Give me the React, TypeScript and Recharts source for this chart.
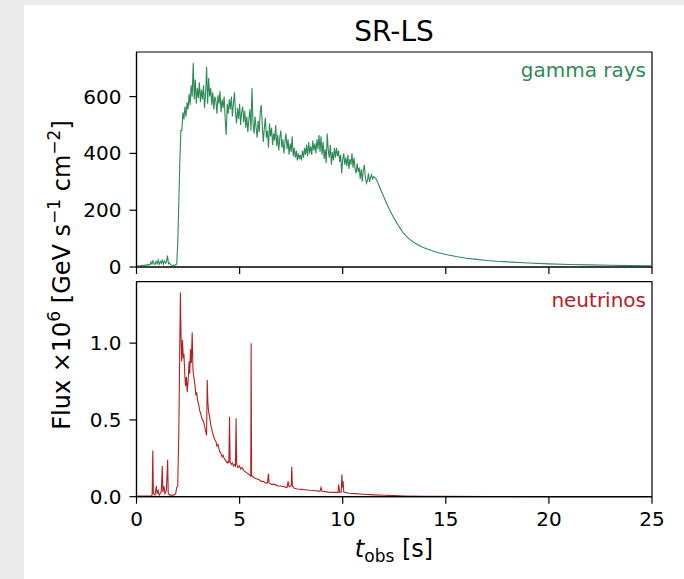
import React from 'react';
import { LineChart, Line, XAxis, YAxis, ReferenceArea } from 'recharts';

// gamma rays: flux sampled every 0.05 s from t = 0 up to 11.50 s
const gammaStep = 0.05;
const gammaFlux = [
  2, 3, 4, 3, 5, 4, 6, 5, 7, 6,
  8, 6, 9, 7, 18, 10, 22, 12, 9, 20,
  11, 24, 9, 19, 13, 26, 10, 21, 14, 17,
  40, 12, 15, 8, 6, 5, 7, 6, 8, 10,
  80, 220, 370, 480,
  480, 545, 520, 565, 530, 580, 555, 610, 570, 640,
  600, 718, 590, 660, 575, 630, 595, 650, 580, 625,
  590, 640, 560, 610, 705, 575, 665, 600, 630, 570,
  615, 555, 600, 585, 540, 605, 575, 620, 545, 590,
  560, 600, 520, 465, 575, 540, 590, 555, 600, 530,
  575, 615, 545, 505, 560, 520, 575, 500, 545, 565,
  510, 550, 490, 530, 475, 520, 555, 480, 630, 505,
  470, 530, 490, 455, 515, 475, 545, 570, 500, 440,
  490, 525, 455, 480, 420, 505, 460, 490, 430, 470,
  445, 500, 425, 465, 410, 455, 480, 420, 450, 400,
  440, 470, 415, 450, 395, 435, 405, 460, 390, 420,
  385, 410, 375, 400, 380, 395, 375, 410, 385, 420,
  395, 430, 390, 440, 400, 425, 395, 445, 410, 435,
  400, 450, 415, 465, 405, 460, 395, 440, 380, 415,
  365, 470, 410, 385, 430, 360, 405, 375, 420, 385,
  420, 390, 410, 370, 395, 330, 380, 400, 360, 385,
  355, 395, 345, 380, 360, 400, 350, 385, 345, 330,
  365, 335, 350, 310, 345, 300, 340, 360, 315, 295,
  305, 330, 300, 315, 325, 310, 318,
];

// smooth decay after the burst
const gammaTailT = [
  11.6, 11.7, 11.8, 11.9, 12.0, 12.1, 12.2, 12.3, 12.4, 12.5, 12.6, 12.7, 12.8, 12.9,
  13.0, 13.2, 13.4, 13.6, 13.8, 14.0, 14.3, 14.6, 15.0, 15.5, 16.0, 16.5, 17.0, 17.5,
  18.0, 19.0, 20.0, 21.0, 22.0, 23.0, 24.0, 25.0,
];
const gammaTailFlux = [
  312, 298, 280, 263, 246, 229, 213, 198, 184, 170, 158, 146, 135, 124,
  115, 100, 89, 80, 72, 66, 58, 51, 44, 37, 31, 27, 23, 20,
  18, 14, 11, 9, 7.5, 6, 5, 4,
];

// neutrinos
const nuT = [
  0.0, 0.7, 0.76, 0.79, 0.82, 0.9, 0.96, 1.0, 1.05, 1.1, 1.2, 1.25, 1.28, 1.33, 1.38, 1.45,
  1.51, 1.54, 1.6, 1.8, 1.9, 1.95, 2.0, 2.05, 2.1, 2.13, 2.16, 2.19, 2.23, 2.27, 2.3, 2.34,
  2.38, 2.42, 2.46, 2.5, 2.55, 2.58, 2.62, 2.66, 2.7, 2.74, 2.78, 2.84, 2.88, 2.92, 2.97, 3.02,
  3.06, 3.1, 3.15, 3.2, 3.25, 3.3, 3.35, 3.4, 3.43, 3.46, 3.5, 3.55, 3.6, 3.65, 3.7, 3.75,
  3.8, 3.85, 3.9, 3.95, 4.0, 4.05, 4.1, 4.15, 4.2, 4.25, 4.3, 4.35, 4.4, 4.45, 4.48, 4.51,
  4.54, 4.6, 4.65, 4.7, 4.75, 4.8, 4.83, 4.86, 4.92, 5.0, 5.05, 5.12, 5.2, 5.3, 5.4, 5.5,
  5.54, 5.56, 5.58, 5.65, 5.75, 5.85, 5.95, 6.05, 6.15, 6.25, 6.35, 6.4, 6.43, 6.55, 6.7, 6.85,
  7.0, 7.15, 7.3, 7.35, 7.4, 7.5, 7.53, 7.56, 7.65, 7.8, 8.0, 8.2, 8.4, 8.6, 8.9, 8.95,
  9.0, 9.3, 9.6, 9.78, 9.8, 9.85, 9.93, 9.96, 9.99, 10.02, 10.05, 10.3, 10.6, 11.0, 11.5, 12.0,
  12.5, 13.0, 14.0, 15.0, 17.0, 20.0, 25.0,
];
const nuFlux = [
  0.005, 0.005, 0.01, 0.3, 0.02, 0.01, 0.07, 0.02, 0.04, 0.01, 0.03, 0.2, 0.03, 0.07, 0.02, 0.04,
  0.24, 0.02, 0.01, 0.01, 0.02, 0.06, 0.07, 0.4, 1.0, 1.33, 1.05, 0.88, 1.02, 0.9, 0.93, 0.8,
  0.72, 0.78, 0.68, 0.75, 0.88, 0.8, 0.96, 0.87, 1.07, 0.82, 0.78, 0.72, 0.66, 0.68, 0.62, 0.6,
  0.56, 0.55, 0.52, 0.5, 0.49, 0.46, 0.43, 0.4, 0.76, 0.62, 0.55, 0.52, 0.47, 0.44, 0.41, 0.39,
  0.37, 0.36, 0.33, 0.34, 0.31, 0.29, 0.28, 0.26, 0.27, 0.25, 0.24, 0.23, 0.22, 0.23, 0.22, 0.52,
  0.23, 0.21, 0.22, 0.2, 0.21, 0.2, 0.51, 0.21, 0.19, 0.2, 0.18, 0.19, 0.17, 0.16, 0.15, 0.14,
  0.13, 1.0, 0.14, 0.13, 0.12, 0.115, 0.11, 0.1, 0.1, 0.09, 0.09, 0.15, 0.09, 0.08, 0.08, 0.07,
  0.07, 0.065, 0.06, 0.1, 0.065, 0.07, 0.195, 0.07, 0.055, 0.05, 0.048, 0.045, 0.042, 0.04, 0.035, 0.06,
  0.035, 0.03, 0.028, 0.028, 0.08, 0.03, 0.03, 0.145, 0.06, 0.1, 0.03, 0.022, 0.02, 0.016, 0.012, 0.009,
  0.007, 0.005, 0.003, 0.002, 0.001, 0.0005, 0.0002,
];

const xTicks = [0, 5, 10, 15, 20, 25];
const gammaTicks = [0, 200, 400, 600];
const nuTicks = [0, 0.5, 1.0];

const gammaRows = [
  ...gammaFlux.map((v, i) => ({ t: +(i * gammaStep).toFixed(2), v })),
  ...gammaTailT.map((t, i) => ({ t, v: gammaTailFlux[i] })),
];
const nuRows = nuT.map((t, i) => ({ t, v: nuFlux[i] }));

const W = 684;
const H = 579;
const FONT = 'DejaVu Sans';
const GREEN = '#2e8b57';
const RED = '#b22222';
const tickStyle = { fill: '#000', fontSize: 20, fontFamily: FONT };
const axisStroke = { stroke: '#000', strokeWidth: 1.2 };

const App: React.FC = () => {
  return (
    <div style={{ position: 'absolute', left: 0, top: 0, width: W, height: H, background: '#ebebeb', overflow: 'hidden' }}>
      <div style={{ position: 'absolute', left: 24, top: 5, right: 0, bottom: 0, background: '#fff' }} />

      {/* top panel: gamma rays */}
      <div style={{ position: 'absolute', left: 0, top: 0 }}>
        <LineChart width={W} height={H} data={gammaRows} margin={{ top: 52, right: 32, left: 0, bottom: 298 }}>
          <XAxis
            dataKey="t"
            type="number"
            domain={[0, 25]}
            ticks={xTicks}
            height={14}
            axisLine={axisStroke}
            tickLine={axisStroke}
            tickSize={7}
            tickFormatter={() => ''}
          />
          <YAxis
            type="number"
            domain={[0, 757]}
            ticks={gammaTicks}
            width={136.5}
            axisLine={axisStroke}
            tickLine={axisStroke}
            tickSize={7}
            tickMargin={8}
            tick={tickStyle}
          />
          <ReferenceArea x1={0} x2={25} y1={0} y2={757} fill="none" stroke="#000" strokeWidth={1.2} />
          <Line type="linear" dataKey="v" stroke={GREEN} strokeWidth={1.1} dot={false} isAnimationActive={false} />
        </LineChart>
      </div>

      {/* bottom panel: neutrinos */}
      <div style={{ position: 'absolute', left: 0, top: 0 }}>
        <LineChart width={W} height={H} data={nuRows} margin={{ top: 281.7, right: 32, left: 0, bottom: 42.3 }}>
          <XAxis
            dataKey="t"
            type="number"
            domain={[0, 25]}
            ticks={xTicks}
            height={40}
            axisLine={axisStroke}
            tickLine={axisStroke}
            tickSize={7}
            tickMargin={8}
            tick={tickStyle}
          />
          <YAxis
            type="number"
            domain={[0, 1.4]}
            ticks={nuTicks}
            width={136.5}
            axisLine={axisStroke}
            tickLine={axisStroke}
            tickSize={7}
            tickMargin={8}
            tick={tickStyle}
            tickFormatter={(v: number) => v.toFixed(1)}
          />
          <ReferenceArea x1={0} x2={25} y1={0} y2={1.4} fill="none" stroke="#000" strokeWidth={1.2} />
          <Line type="linear" dataKey="v" stroke={RED} strokeWidth={1.1} dot={false} isAnimationActive={false} />
        </LineChart>
      </div>

      {/* title, axis labels, panel labels */}
      <svg width={W} height={H} style={{ position: 'absolute', left: 0, top: 0, pointerEvents: 'none' }} fontFamily={FONT}>
        <text x={394} y={41} textAnchor="middle" fontSize={28} fill="#000">SR-LS</text>
        <text x={646} y={77} textAnchor="end" fontSize={20} fill={GREEN}>gamma rays</text>
        <text x={646} y={307} textAnchor="end" fontSize={20} fill={RED}>neutrinos</text>
        <text x={394} y={557} textAnchor="middle" fontSize={24} fill="#000">
          <tspan fontStyle="italic">t</tspan>
          <tspan fontSize={17} dy={5}>obs</tspan>
          <tspan dy={-5}> [s]</tspan>
        </text>
        <text transform="translate(70 275) rotate(-90)" textAnchor="middle" fontSize={24} fill="#000">
          Flux ×10<tspan fontSize={17} dy={-10}>6</tspan>
          <tspan dy={10}> [GeV s</tspan>
          <tspan fontSize={17} dy={-10}>−1</tspan>
          <tspan dy={10}> cm</tspan>
          <tspan fontSize={17} dy={-10}>−2</tspan>
          <tspan dy={10}>]</tspan>
        </text>
      </svg>
    </div>
  );
};

export default App;
